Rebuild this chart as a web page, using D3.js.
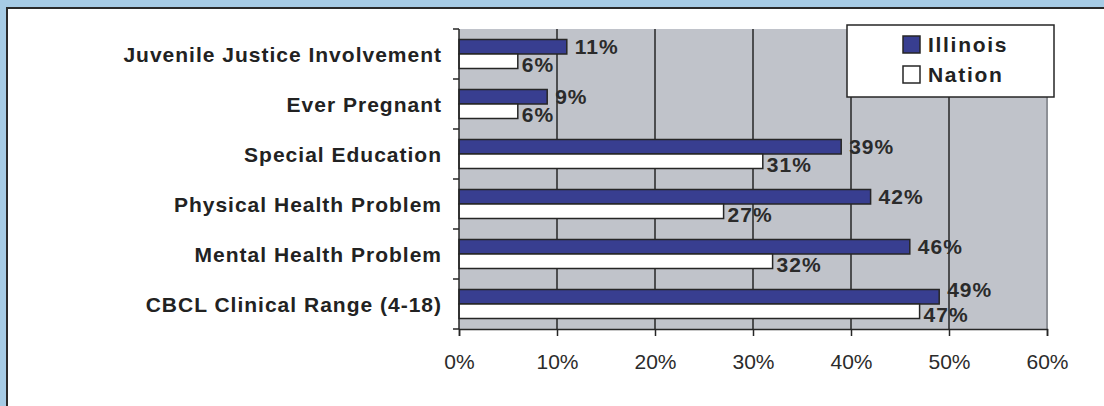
<!DOCTYPE html>
<html>
<head>
<meta charset="utf-8">
<script src="https://cdn.jsdelivr.net/npm/d3@7"></script>
<style>
  html, body { margin: 0; padding: 0; background: #a6cbe5; }
  svg { display: block; }
  text { font-family: "Liberation Sans", Arial, sans-serif; }
</style>
</head>
<body>
<svg id="chart" width="1104" height="406"></svg>
<script>
// Outcome categories, top to bottom
const categories = [
  "Juvenile Justice Involvement",
  "Ever Pregnant",
  "Special Education",
  "Physical Health Problem",
  "Mental Health Problem",
  "CBCL Clinical Range (4-18)"
];
// Percent of youth, by series
const illinois = [11, 9, 39, 42, 46, 49];
const nation   = [6, 6, 31, 27, 32, 47];
const seriesNames = ["Illinois", "Nation"];
const xTicks = [0, 10, 20, 30, 40, 50, 60];

const colors = { Illinois: "#383e90", Nation: "#ffffff" };
const ink = "#262626";

const svg = d3.select("#chart");

// white panel with dark frame
svg.append("rect")
  .attr("x", 7).attr("y", 8)
  .attr("width", 1120).attr("height", 420)
  .attr("fill", "#ffffff")
  .attr("stroke", "#2a2a2a").attr("stroke-width", 2);

const plot = { left: 459, right: 1047, top: 29, bottom: 329 };

const x = d3.scaleLinear().domain([0, 60]).range([plot.left, plot.right]);
const y = d3.scaleBand().domain(categories)
  .range([plot.top, plot.bottom])
  .paddingInner(0.42).paddingOuter(0.21);
const ySeries = d3.scaleBand().domain(seriesNames).range([0, y.bandwidth()]);

const rows = categories.map((c, i) => ({ cat: c, Illinois: illinois[i], Nation: nation[i] }));

// plot background
svg.append("rect")
  .attr("x", plot.left).attr("y", plot.top)
  .attr("width", plot.right - plot.left).attr("height", plot.bottom - plot.top)
  .attr("fill", "#c0c3ca");

// right edge of plot area
svg.append("line")
  .attr("x1", plot.right).attr("x2", plot.right)
  .attr("y1", plot.top).attr("y2", plot.bottom)
  .attr("stroke", "#8d9096").attr("stroke-width", 2);

// vertical gridlines
svg.append("g")
  .selectAll("line")
  .data(xTicks.filter(t => t > 0 && t < 60))
  .join("line")
  .attr("x1", d => x(d)).attr("x2", d => x(d))
  .attr("y1", plot.top).attr("y2", plot.bottom)
  .attr("stroke", ink).attr("stroke-width", 1.5);

// bars
const groups = svg.append("g").selectAll("g")
  .data(rows).join("g")
  .attr("transform", d => `translate(0,${y(d.cat)})`);

groups.selectAll("rect")
  .data(d => seriesNames.map(s => ({ s, v: d[s] })))
  .join("rect")
  .attr("x", x(0))
  .attr("y", d => ySeries(d.s))
  .attr("width", d => x(d.v) - x(0))
  .attr("height", ySeries.bandwidth())
  .attr("fill", d => colors[d.s])
  .attr("stroke", ink).attr("stroke-width", 1.5);

// value labels; an Illinois label is lifted when it would collide with the Nation label below it
const labelGap = { Illinois: 8, Nation: 4 };
const labelWidth = v => (String(v).length + 1) * 13;
groups.selectAll("text")
  .data(d => seriesNames.map(s => ({ s, v: d[s], row: d })))
  .join("text")
  .attr("x", d => x(d.v) + labelGap[d.s])
  .attr("y", d => {
    const mid = ySeries(d.s) + ySeries.bandwidth() / 2;
    if (d.s === "Nation") return mid + 3;
    const nStart = x(d.row.Nation) + labelGap.Nation;
    const nEnd = nStart + labelWidth(d.row.Nation);
    const clash = x(d.v) + labelGap.Illinois < nEnd;
    return clash ? mid - 7 : mid;
  })
  .attr("dy", "0.36em")
  .attr("font-size", 21).attr("font-weight", "bold")
  .attr("letter-spacing", 1)
  .attr("fill", "#2b2b2b")
  .text(d => d.v + "%");

// left (category) axis
const yAxis = svg.append("g").attr("transform", `translate(${plot.left},0)`);
yAxis.append("line")
  .attr("x1", 0).attr("x2", 0).attr("y1", plot.top).attr("y2", plot.bottom)
  .attr("stroke", ink).attr("stroke-width", 1.5);
const bounds = categories.map(c => y(c) - y.step() * y.paddingOuter());
bounds.push(plot.bottom);
yAxis.selectAll("line.tick")
  .data(bounds).join("line").attr("class", "tick")
  .attr("x1", -6).attr("x2", 0)
  .attr("y1", d => d).attr("y2", d => d)
  .attr("stroke", ink).attr("stroke-width", 1.5);
yAxis.selectAll("text")
  .data(categories).join("text")
  .attr("x", -17)
  .attr("y", d => y(d) + y.bandwidth() / 2)
  .attr("dy", "0.36em")
  .attr("text-anchor", "end")
  .attr("font-size", 21).attr("font-weight", "bold")
  .attr("letter-spacing", 1)
  .attr("fill", "#222")
  .text(d => d);

// bottom (value) axis
const xAxis = svg.append("g")
  .attr("transform", `translate(0,${plot.bottom})`)
  .call(d3.axisBottom(x).tickValues(xTicks).tickFormat(d => d + "%").tickSize(7).tickPadding(18));
xAxis.select(".domain").attr("stroke", ink).attr("stroke-width", 1.5);
xAxis.selectAll(".tick line").attr("stroke", ink).attr("stroke-width", 1.5);
xAxis.selectAll(".tick text")
  .attr("font-family", "'Liberation Sans', Arial, sans-serif")
  .attr("font-size", 21).attr("fill", "#2b2b2b");

// legend
const legend = svg.append("g");
legend.append("rect")
  .attr("x", 847).attr("y", 25).attr("width", 207).attr("height", 72)
  .attr("fill", "#ffffff").attr("stroke", ink).attr("stroke-width", 1.5);
const items = legend.selectAll("g.item")
  .data(seriesNames).join("g").attr("class", "item")
  .attr("transform", (d, i) => `translate(903,${36 + i * 30})`);
items.append("rect")
  .attr("width", 17).attr("height", 17)
  .attr("fill", d => colors[d]).attr("stroke", ink).attr("stroke-width", 1.5);
items.append("text")
  .attr("x", 25).attr("y", 16)
  .attr("font-size", 21).attr("font-weight", "bold")
  .attr("letter-spacing", 1.7)
  .attr("fill", "#222")
  .text(d => d);
</script>
</body>
</html>
